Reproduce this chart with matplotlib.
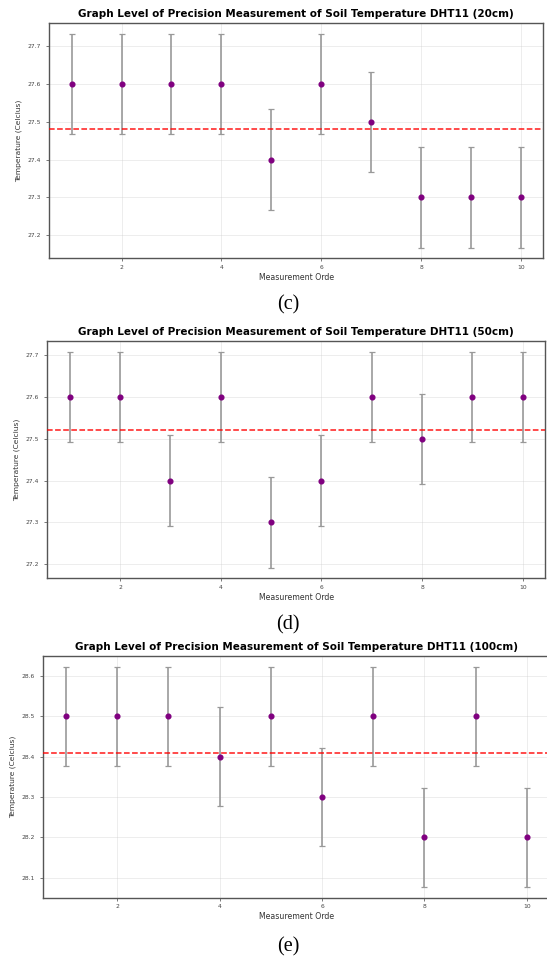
import matplotlib
matplotlib.use("Agg")
import matplotlib.pyplot as plt
import numpy as np

# Measurement order (1..10)
orders = [1, 2, 3, 4, 5, 6, 7, 8, 9, 10]

# Soil temperature readings per depth
temp_20cm = [27.6, 27.6, 27.6, 27.6, 27.4, 27.6, 27.5, 27.3, 27.3, 27.3]
temp_50cm = [27.6, 27.6, 27.4, 27.6, 27.3, 27.4, 27.6, 27.5, 27.6, 27.6]
temp_100cm = [28.5, 28.5, 28.5, 28.4, 28.5, 28.3, 28.5, 28.2, 28.5, 28.2]

depths = ["20cm", "50cm", "100cm"]
captions = ["(c)", "(d)", "(e)"]

plt.rcParams.update({
    "font.family": "DejaVu Sans",
    "axes.edgecolor": "#555555",
    "axes.linewidth": 1.0,
    "xtick.color": "#444444",
    "ytick.color": "#444444",
    "xtick.labelsize": 4.3,
    "ytick.labelsize": 4.3,
    "xtick.major.size": 2.2,
    "ytick.major.size": 2.2,
    "xtick.major.width": 0.5,
    "ytick.major.width": 0.5,
    "xtick.major.pad": 2.5,
    "ytick.major.pad": 3.5,
})

fig = plt.figure(figsize=(5.47, 9.6), dpi=100)

# axes rectangles (left, bottom, width, height) in figure coords
rects = [
    [0.0899, 0.7309, 0.9033, 0.2451],
    [0.0861, 0.3976, 0.9110, 0.2472],
    [0.0784, 0.0649, 0.9270, 0.2518],
]
caption_pos = [(0.527, 0.682), (0.527, 0.349), (0.527, 0.014)]

for temps, depth, cap, rect, cpos in zip(
        [temp_20cm, temp_50cm, temp_100cm], depths, captions, rects, caption_pos):
    ax = fig.add_axes(rect)
    vals = np.array(temps)
    mean = vals.mean()
    std = vals.std()

    ax.errorbar(
        orders, vals, yerr=std,
        fmt="o", color="purple", markersize=3.4,
        ecolor="#999999", elinewidth=1.2,
        capsize=2.4, capthick=0.9, zorder=3,
    )
    ax.axhline(mean, color="red", linestyle="--", linewidth=1.1, alpha=0.9, zorder=4)

    ax.set_title(
        f"Graph Level of Precision Measurement of Soil Temperature DHT11 ({depth})",
        fontsize=7.5, fontweight="bold", pad=4,
    )
    ax.set_xlabel("Measurement Orde", fontsize=5.6, color="#333333", labelpad=2)
    ax.set_ylabel("Temperature (Celcius)", fontsize=5.4, color="#333333", labelpad=4)
    ax.grid(True, color="#cccccc", alpha=0.5, linewidth=0.5)
    ax.set_axisbelow(True)

    fig.text(cpos[0], cpos[1], cap, family="Liberation Serif", fontsize=14.5,
             ha="center", va="center")

fig.savefig("out.png", dpi=100)
plt.close(fig)
